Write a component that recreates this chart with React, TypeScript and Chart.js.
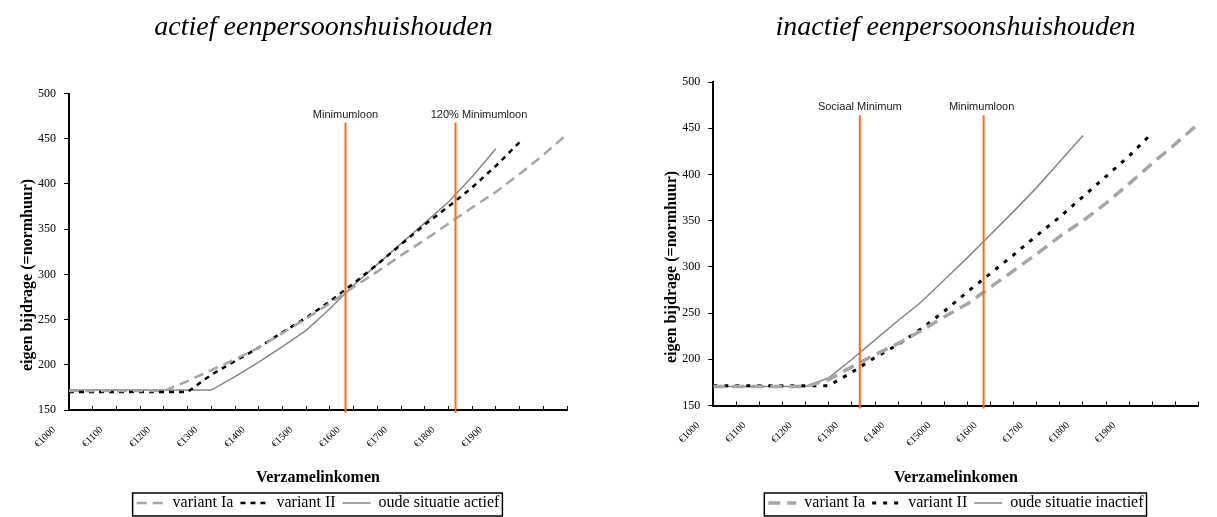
import React, { useEffect, useRef } from 'react';
import { Chart, registerables } from 'chart.js';

Chart.register(...registerables);

// ---------------- data ----------------
const inkomen = [1000, 1050, 1100, 1150, 1200, 1250, 1300, 1350, 1400, 1450, 1500, 1550, 1600, 1650, 1700, 1750, 1800, 1850, 1900, 1950, 2000, 2050];

const tickWaarden = [1000, 1100, 1200, 1300, 1400, 1500, 1600, 1700, 1800, 1900];
const tickLabelsActief = ['€1000', '€1100', '€1200', '€1300', '€1400', '€1500', '€1600', '€1700', '€1800', '€1900'];
const tickLabelsInactief = ['€1000', '€1100', '€1200', '€1300', '€1400', '€15000', '€1600', '€1700', '€1800', '€1900'];

const titelActief = 'actief eenpersoonshuishouden';
const titelInactief = 'inactief eenpersoonshuishouden';
const yAsTitel = 'eigen bijdrage (=normhuur)';
const xAsTitel = 'Verzamelinkomen';

const reeksActief = ['variant Ia', 'variant II', 'oude situatie actief'];
const reeksInactief = ['variant Ia', 'variant II', 'oude situatie inactief'];

const variantIaActief = [171, 171, 171, 171, 171, 182, 194, 206, 219, 235, 251, 268, 286, 303, 321, 338, 356, 374, 391, 411, 432, 455];
const variantIIActief = [170, 170, 170, 170, 170, 170, 189, 204, 219, 236, 252, 270, 290, 311, 333, 355, 375, 396, 420, 446];
const oudeActief = [172, 172, 172, 172, 172, 172, 172, 187, 203, 220, 238, 262, 288, 311, 334, 357, 380, 408, 439];

const variantIaInactief = [170.5, 170.5, 170.5, 170.5, 170.5, 178, 192, 205, 217, 231, 246, 260, 278, 296, 314, 333, 350, 369, 390, 412, 433, 455];
const variantIIInactief = [171.5, 171.5, 171.5, 171.5, 171.5, 171.5, 186, 202, 216, 233, 252, 273, 293, 313, 334, 354, 376, 398, 420, 445];
const oudeInactief = [170.5, 170.5, 170.5, 170.5, 170.5, 180, 200, 221, 242, 262, 286, 310, 335, 360, 386, 414, 442];

const grensWaardenActief = [1583, 1815];
const grensLabelsActief = ['Minimumloon', '120% Minimumloon'];
const grensWaardenInactief = [1317, 1585];
const grensLabelsInactief = ['Sociaal Minimum', 'Minimumloon'];

// ---------------- styles / layout ----------------
const SERIF = '"Liberation Serif", "Times New Roman", serif';
const SANS = '"Liberation Sans", Arial, sans-serif';

type Serie = { label: string; values: number[]; color: string; width: number; dash: number[] };
type Spec = {
  left: number; width: number; height: number;
  title: string; titleX: number; titleY: number;
  yTitleX: number; yTitleY: number;
  padTop: number; padRight: number; yWidth: number; xHeight: number;
  tickLabels: string[];
  series: Serie[];
  markers: number[]; markerLabels: string[]; markerLabelDx: number[]; markerTop: number; markerLabelGap: number;
};

const specActief: Spec = {
  left: 0, width: 608, height: 521,
  title: titelActief, titleX: 323.5, titleY: 28,
  yTitleX: 27.5, yTitleY: 275,
  padTop: 93.5, padRight: 41, yWidth: 69, xHeight: 78,
  tickLabels: tickLabelsActief,
  series: [
    { label: reeksActief[0], values: variantIaActief, color: '#A6A6A6', width: 2.5, dash: [10, 6] },
    { label: reeksActief[1], values: variantIIActief, color: '#000000', width: 2.5, dash: [5, 5] },
    { label: reeksActief[2], values: oudeActief, color: '#868686', width: 1.5, dash: [] },
  ],
  markers: grensWaardenActief, markerLabels: grensLabelsActief, markerLabelDx: [0, 23.5], markerTop: 468, markerLabelGap: 7,
};

const specInactief: Spec = {
  left: 608, width: 617, height: 521,
  title: titelInactief, titleX: 347.5, titleY: 28,
  yTitleX: 64, yTitleY: 267,
  padTop: 82, padRight: 3, yWidth: 105.3, xHeight: 82.5,
  tickLabels: tickLabelsInactief,
  series: [
    { label: reeksInactief[0], values: variantIaInactief, color: '#A6A6A6', width: 3.5, dash: [12, 7] },
    { label: reeksInactief[1], values: variantIIInactief, color: '#000000', width: 3, dash: [4, 7] },
    { label: reeksInactief[2], values: oudeInactief, color: '#868686', width: 1.5, dash: [] },
  ],
  markers: grensWaardenInactief, markerLabels: grensLabelsInactief, markerLabelDx: [0, -2], markerTop: 464, markerLabelGap: 8.5,
};

function Panel({ spec }: { spec: Spec }) {
  const ref = useRef<HTMLCanvasElement | null>(null);

  useEffect(() => {
    const canvas = ref.current;
    if (!canvas) return;

    const decor = {
      id: 'decor',
      afterDatasetsDraw(chart: any) {
        const { ctx, chartArea, scales } = chart;
        const x = scales.x;
        const y = scales.y;
        ctx.save();
        spec.markers.forEach((v, i) => {
          const px = x.getPixelForValue(v);
          const top = y.getPixelForValue(spec.markerTop);
          ctx.strokeStyle = '#FF6A0E';
          ctx.lineWidth = 2;
          ctx.setLineDash([]);
          ctx.beginPath();
          ctx.moveTo(px, top);
          ctx.lineTo(px, chartArea.bottom + 3);
          ctx.stroke();
          ctx.fillStyle = '#1a1a1a';
          ctx.font = `11px ${SANS}`;
          ctx.textAlign = 'center';
          ctx.textBaseline = 'middle';
          ctx.fillText(spec.markerLabels[i], px + spec.markerLabelDx[i], top - spec.markerLabelGap);
        });
        ctx.restore();
      },
      afterDraw(chart: any) {
        const { ctx } = chart;
        ctx.save();
        ctx.fillStyle = '#000';
        ctx.textAlign = 'center';
        ctx.textBaseline = 'middle';
        ctx.font = `italic 28px ${SERIF}`;
        ctx.fillText(spec.title, spec.titleX, spec.titleY);
        ctx.translate(spec.yTitleX, spec.yTitleY);
        ctx.rotate(-Math.PI / 2);
        ctx.font = `bold 16px ${SERIF}`;
        ctx.fillText(yAsTitel, 0, 0);
        ctx.restore();

        const hb = chart.legend && chart.legend.legendHitBoxes;
        if (hb && hb.length) {
          const l = Math.min(...hb.map((h: any) => h.left));
          const r = Math.max(...hb.map((h: any) => h.left + h.width));
          const t = hb[0].top;
          ctx.save();
          ctx.strokeStyle = '#000';
          ctx.lineWidth = 1.5;
          ctx.setLineDash([]);
          ctx.strokeRect(l - 4, t - 2, r - l + 7, 23);
          ctx.restore();
        }
      },
    };

    const chart = new Chart(canvas, {
      type: 'line',
      data: {
        datasets: spec.series.map((s) => ({
          label: s.label,
          data: s.values.map((v, i) => ({ x: inkomen[i], y: v })),
          borderColor: s.color,
          backgroundColor: s.color,
          borderWidth: s.width,
          borderDash: s.dash,
          pointRadius: 0,
          tension: 0,
          fill: false,
        })),
      },
      options: {
        responsive: false,
        animation: false,
        layout: { padding: { left: 0, right: spec.padRight, top: spec.padTop, bottom: 0 } },
        plugins: {
          title: { display: false },
          tooltip: { enabled: false },
          legend: {
            position: 'bottom',
            fullSize: false,
            labels: {
              usePointStyle: true,
              pointStyle: 'line',
              pointStyleWidth: 28,
              padding: 7,
              color: '#000',
              font: { family: SERIF, size: 16 },
              generateLabels: (ch: any) =>
                ch.data.datasets.map((ds: any, i: number) => ({
                  text: ds.label,
                  fillStyle: ds.borderColor,
                  strokeStyle: ds.borderColor,
                  lineWidth: ds.borderWidth,
                  lineDash: ds.borderDash,
                  lineCap: 'butt',
                  pointStyle: 'line',
                  fontColor: '#000',
                  hidden: false,
                  datasetIndex: i,
                })),
            },
          },
        },
        scales: {
          x: {
            type: 'linear',
            min: inkomen[0],
            max: inkomen[inkomen.length - 1],
            afterFit: (s: any) => { s.height = spec.xHeight; },
            ticks: {
              stepSize: 50,
              autoSkip: false,
              minRotation: 45,
              maxRotation: 45,
              padding: 18,
              labelOffset: -15,
              color: '#000',
              font: { family: SERIF, size: 10 },
              callback: (value: any) => {
                const idx = tickWaarden.indexOf(Number(value));
                return idx >= 0 ? spec.tickLabels[idx] : '';
              },
            },
            grid: { drawOnChartArea: false, drawTicks: true, tickLength: -4, color: '#000', lineWidth: 1 },
            border: { display: true, color: '#000', width: 2 },
            title: { display: true, text: xAsTitel, color: '#000', font: { family: SERIF, size: 16, weight: 'bold' }, padding: { top: 0, bottom: 1 } },
          },
          y: {
            min: 150,
            max: 500,
            afterFit: (s: any) => { s.width = spec.yWidth; },
            ticks: { stepSize: 50, padding: 8, color: '#000', font: { family: SERIF, size: 12 } },
            grid: { drawOnChartArea: false, drawTicks: true, tickLength: 5, color: '#000', lineWidth: 1 },
            border: { display: true, color: '#000', width: 2 },
          },
        },
      } as any,
      plugins: [decor],
    });

    return () => chart.destroy();
  }, [spec]);

  return (
    <canvas
      ref={ref}
      width={spec.width}
      height={spec.height}
      style={{ position: 'absolute', left: spec.left, top: 0, width: spec.width, height: spec.height, display: 'block' }}
    />
  );
}

export default function App() {
  return (
    <div style={{ position: 'absolute', left: 0, top: 0, width: 1217, height: 517, overflow: 'hidden', background: '#fff' }}>
      <Panel spec={specActief} />
      <Panel spec={specInactief} />
    </div>
  );
}
